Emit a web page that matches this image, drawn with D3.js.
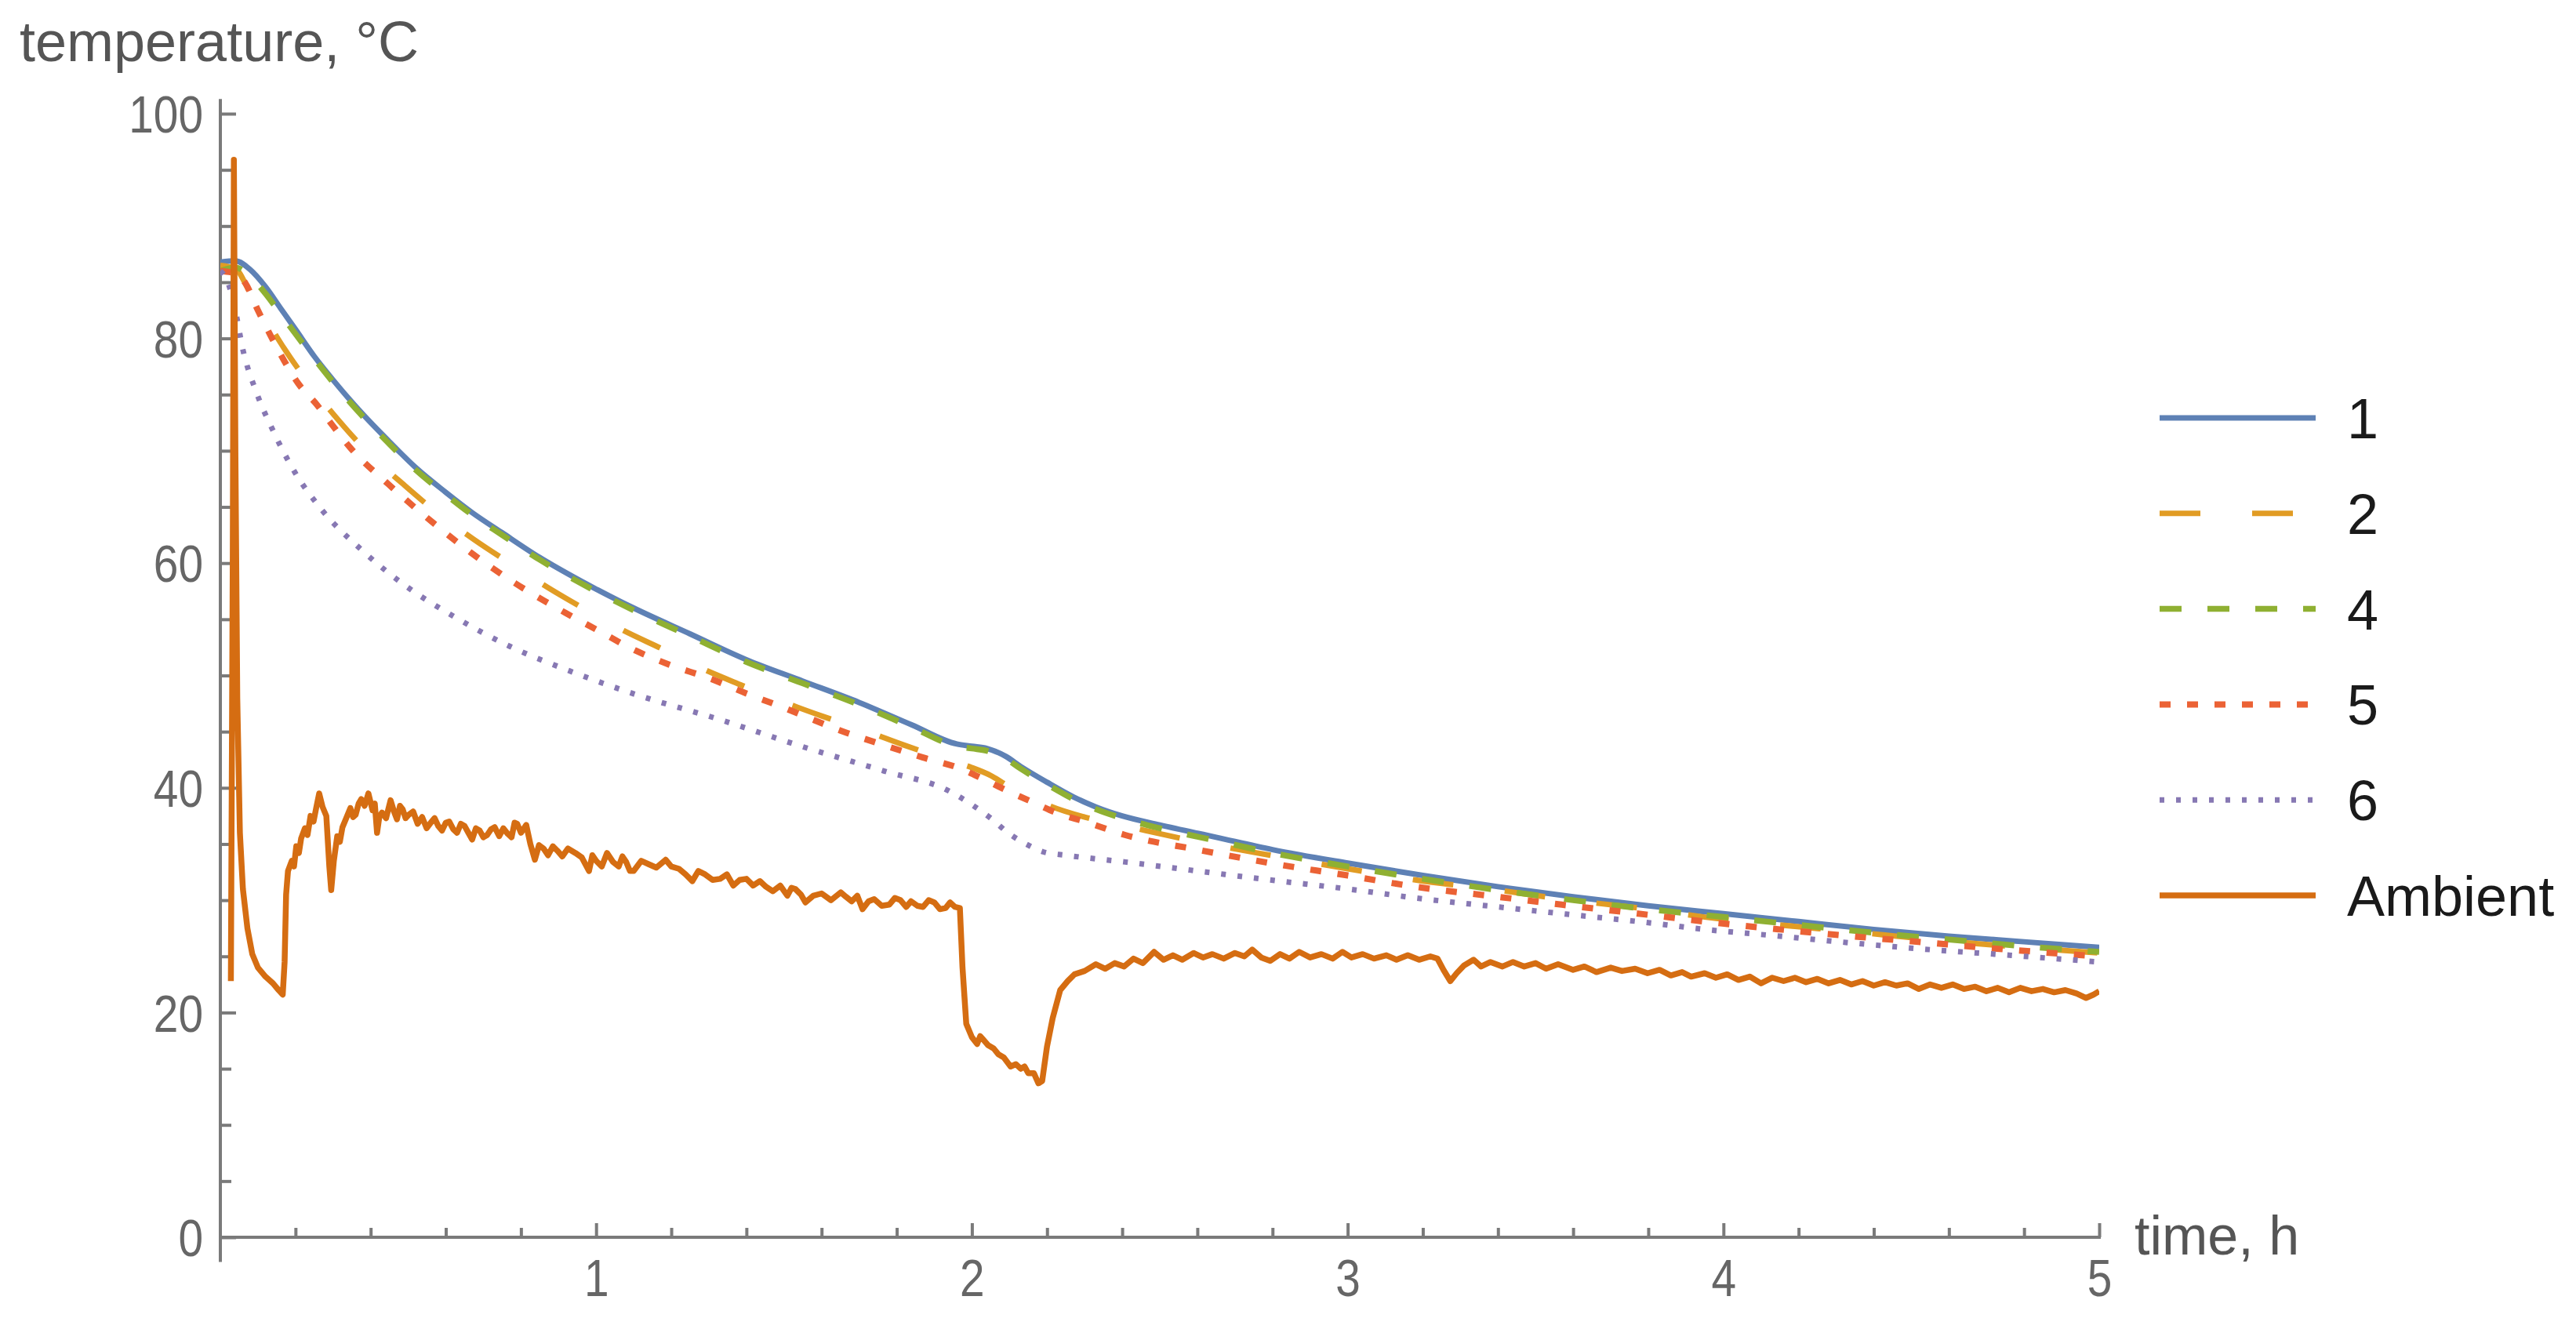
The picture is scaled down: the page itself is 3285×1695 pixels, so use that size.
<!DOCTYPE html>
<html>
<head>
<meta charset="utf-8">
<script src="https://cdn.jsdelivr.net/npm/d3@7"></script>
<style>
  html, body { margin: 0; padding: 0; background: #fff; }
  svg { display: block; }
</style>
</head>
<body>
<svg id="chart" width="3285" height="1695"></svg>
<script>
// ---------------- data ----------------
const seriesNames = ["1", "2", "4", "5", "6", "Ambient"];

const xTicks = [1, 2, 3, 4, 5];
const yTicks = [0, 20, 40, 60, 80, 100];
const xMinorTicks = [0.2,0.4,0.6,0.8,1.2,1.4,1.6,1.8,2.2,2.4,2.6,2.8,3.2,3.4,3.6,3.8,4.2,4.4,4.6,4.8];
const yMinorTicks = [5,10,15,25,30,35,45,50,55,65,70,75,85,90,95];

// series 1 (t [h], T [°C])
const s1 = [[0,86.8],[0.04,86.9],[0.08,86.1],[0.12,84.6],[0.16,82.7],[0.2,80.8],[0.25,78.4],[0.3,76.3],[0.375,73.4],[0.45,70.8],[0.52,68.5],[0.6,66.3],[0.67,64.5],[0.75,62.7],[0.85,60.5],[0.96,58.4],[1.1,56.0],[1.25,53.7],[1.4,51.4],[1.55,49.5],[1.7,47.6],[1.84,45.6],[1.96,43.9],[2.0,43.7],[2.04,43.5],[2.09,42.8],[2.13,41.9],[2.2,40.5],[2.27,39.2],[2.33,38.3],[2.4,37.5],[2.5,36.7],[2.65,35.6],[2.8,34.5],[3.0,33.3],[3.2,32.2],[3.4,31.2],[3.6,30.3],[3.8,29.5],[4.0,28.8],[4.2,28.1],[4.4,27.4],[4.6,26.8],[4.8,26.3],[5.0,25.8]];

// series 2
const s2 = [[0,86.5],[0.04,86.2],[0.08,84.0],[0.12,81.8],[0.17,79.1],[0.24,75.8],[0.315,72.7],[0.4,69.6],[0.484,67.1],[0.58,64.4],[0.675,62.1],[0.77,60.0],[0.873,57.8],[0.97,55.9],[1.073,54.0],[1.18,52.3],[1.283,50.6],[1.39,49.1],[1.494,47.7],[1.6,46.4],[1.714,45.1],[1.82,43.8],[1.934,42.5],[2.0,41.8],[2.05,41.1],[2.1,40.1],[2.146,39.4],[2.2,38.5],[2.3,37.4],[2.408,36.6],[2.6,35.2],[2.794,34.0],[3.0,32.8],[3.18,31.8],[3.4,30.9],[3.57,30.1],[3.8,29.2],[3.95,28.5],[4.15,27.8],[4.34,27.2],[4.55,26.5],[4.72,26.0],[5.0,25.3]];

// series 4
const s4 = [[0,86.0],[0.04,86.3],[0.08,85.5],[0.12,84.0],[0.16,82.2],[0.2,80.4],[0.25,78.2],[0.3,76.1],[0.375,73.2],[0.45,70.6],[0.52,68.3],[0.6,66.1],[0.67,64.3],[0.75,62.5],[0.85,60.3],[0.96,58.2],[1.1,55.8],[1.25,53.5],[1.4,51.2],[1.55,49.3],[1.7,47.4],[1.84,45.4],[1.96,43.7],[2.0,43.5],[2.04,43.3],[2.09,42.6],[2.13,41.7],[2.2,40.3],[2.27,39.0],[2.33,38.1],[2.4,37.3],[2.5,36.4],[2.65,35.3],[2.8,34.2],[3.0,33.0],[3.2,31.9],[3.4,30.9],[3.6,30.0],[3.8,29.2],[4.0,28.5],[4.2,27.8],[4.4,27.1],[4.6,26.5],[4.8,25.9],[5.0,25.4]];

// series 5
const s5 = [[0,86.0],[0.04,85.8],[0.067,84.9],[0.1,82.5],[0.133,80.3],[0.17,78.0],[0.207,76.0],[0.257,74.1],[0.3,72.2],[0.345,70.3],[0.448,67.0],[0.566,63.6],[0.668,60.9],[0.785,58.2],[0.917,55.6],[1.0,54.1],[1.106,52.2],[1.2,50.9],[1.297,49.8],[1.4,48.4],[1.502,47.1],[1.546,46.5],[1.65,45.1],[1.766,43.8],[1.87,42.7],[1.97,41.7],[2.029,40.8],[2.103,39.6],[2.17,38.6],[2.231,37.7],[2.3,37.0],[2.408,35.8],[2.6,34.5],[2.794,33.3],[3.0,32.2],[3.18,31.2],[3.4,30.3],[3.57,29.6],[3.8,28.7],[3.95,28.1],[4.15,27.4],[4.34,26.8],[4.55,26.2],[4.72,25.7],[5.0,25.0]];

// series 6
const s6 = [[0,86.0],[0.02,85.0],[0.038,82.8],[0.06,79.0],[0.096,75.2],[0.14,71.8],[0.198,68.1],[0.271,64.7],[0.375,61.2],[0.492,58.0],[0.624,55.2],[0.77,52.6],[0.93,50.4],[1.106,48.3],[1.327,46.1],[1.546,43.7],[1.766,41.5],[1.94,39.7],[2.0,38.5],[2.05,37.3],[2.1,35.9],[2.15,34.9],[2.19,34.3],[2.25,34.0],[2.408,33.4],[2.6,32.6],[2.794,31.8],[3.0,31.0],[3.18,30.2],[3.4,29.4],[3.57,28.8],[3.8,28.0],[3.95,27.4],[4.15,26.8],[4.34,26.2],[4.55,25.6],[4.72,25.2],[5.0,24.5]];

// ambient
const ambient = [[0.028,22.8],[0.033,60],[0.036,95.9],[0.040,70],[0.045,48],[0.052,36],[0.060,31],[0.072,27.5],[0.085,25.2],[0.100,24.0],[0.120,23.2],[0.140,22.6],[0.155,22.0],[0.166,21.6],[0.171,24.5],[0.175,30.5],[0.180,32.6],[0.190,33.5],[0.196,33.0],[0.202,34.8],[0.209,34.2],[0.215,35.5],[0.225,36.4],[0.232,35.8],[0.240,37.5],[0.248,37.0],[0.255,38.2],[0.263,39.5],[0.272,38.3],[0.282,37.5],[0.290,33.0],[0.295,30.9],[0.302,33.5],[0.311,35.7],[0.318,35.2],[0.325,36.5],[0.335,37.3],[0.346,38.2],[0.353,37.4],[0.360,37.6],[0.368,38.6],[0.375,39.0],[0.384,38.4],[0.394,39.5],[0.405,38.0],[0.411,38.6],[0.417,36.0],[0.423,37.4],[0.430,37.8],[0.441,37.3],[0.453,38.9],[0.462,37.9],[0.470,37.2],[0.478,38.4],[0.485,38.1],[0.493,37.3],[0.501,37.6],[0.513,37.9],[0.525,36.8],[0.537,37.4],[0.549,36.4],[0.560,36.9],[0.570,37.3],[0.580,36.6],[0.590,36.2],[0.600,36.9],[0.609,37.0],[0.620,36.3],[0.630,36.0],[0.640,36.8],[0.650,36.6],[0.660,36.0],[0.670,35.4],[0.680,36.4],[0.690,36.2],[0.700,35.6],[0.710,35.8],[0.720,36.3],[0.730,36.5],[0.742,35.7],[0.753,36.4],[0.765,35.9],[0.775,35.6],[0.783,36.9],[0.790,36.8],[0.800,36.0],[0.814,36.7],[0.825,35.0],[0.837,33.6],[0.848,34.9],[0.860,34.6],[0.872,34.0],[0.885,34.8],[0.897,34.4],[0.910,33.9],[0.925,34.6],[0.945,34.2],[0.962,33.8],[0.981,32.6],[0.990,34.0],[1.000,33.5],[1.015,33.0],[1.029,34.2],[1.045,33.4],[1.060,33.0],[1.070,33.9],[1.080,33.4],[1.090,32.6],[1.100,32.6],[1.120,33.5],[1.140,33.2],[1.160,32.9],[1.185,33.6],[1.200,33.0],[1.220,32.8],[1.238,32.3],[1.256,31.7],[1.272,32.6],[1.290,32.3],[1.310,31.8],[1.330,31.9],[1.348,32.3],[1.365,31.3],[1.382,31.8],[1.400,31.9],[1.418,31.3],[1.436,31.7],[1.452,31.2],[1.470,30.8],[1.490,31.3],[1.509,30.4],[1.520,31.1],[1.530,31.0],[1.545,30.5],[1.557,29.8],[1.578,30.4],[1.600,30.6],[1.625,30.0],[1.651,30.7],[1.665,30.3],[1.680,29.9],[1.695,30.4],[1.709,29.2],[1.725,29.9],[1.740,30.1],[1.760,29.5],[1.780,29.6],[1.795,30.2],[1.810,30.0],[1.825,29.4],[1.838,29.9],[1.855,29.5],[1.870,29.4],[1.885,30.0],[1.900,29.8],[1.915,29.2],[1.930,29.3],[1.942,29.8],[1.955,29.4],[1.968,29.3],[1.975,24.0],[1.985,19.0],[2.000,17.8],[2.014,17.2],[2.022,17.9],[2.030,17.6],[2.043,17.1],[2.058,16.8],[2.070,16.3],[2.085,16.0],[2.103,15.2],[2.117,15.4],[2.130,15.0],[2.140,15.2],[2.150,14.6],[2.165,14.6],[2.177,13.7],[2.187,13.9],[2.200,17.0],[2.215,19.5],[2.235,22.0],[2.255,22.8],[2.273,23.4],[2.300,23.7],[2.330,24.3],[2.355,23.9],[2.380,24.4],[2.405,24.1],[2.430,24.8],[2.455,24.4],[2.485,25.4],[2.510,24.7],[2.535,25.1],[2.560,24.7],[2.590,25.3],[2.615,24.9],[2.640,25.2],[2.670,24.8],[2.700,25.3],[2.725,25.0],[2.746,25.6],[2.770,24.9],[2.794,24.6],[2.820,25.2],[2.845,24.8],[2.871,25.4],[2.900,24.9],[2.930,25.2],[2.960,24.8],[2.986,25.4],[3.010,24.9],[3.040,25.2],[3.070,24.8],[3.103,25.1],[3.130,24.7],[3.160,25.1],[3.190,24.7],[3.220,25.0],[3.239,24.8],[3.255,23.8],[3.273,22.8],[3.290,23.5],[3.310,24.2],[3.335,24.7],[3.355,24.1],[3.380,24.5],[3.412,24.1],[3.440,24.5],[3.470,24.1],[3.500,24.4],[3.528,23.9],[3.560,24.3],[3.600,23.8],[3.630,24.1],[3.662,23.6],[3.700,24.0],[3.730,23.7],[3.765,23.9],[3.798,23.5],[3.830,23.8],[3.860,23.3],[3.890,23.6],[3.914,23.2],[3.950,23.5],[3.980,23.1],[4.010,23.4],[4.040,22.9],[4.070,23.2],[4.100,22.6],[4.130,23.1],[4.160,22.8],[4.190,23.1],[4.220,22.7],[4.250,23.0],[4.280,22.6],[4.310,22.9],[4.340,22.5],[4.370,22.8],[4.400,22.4],[4.430,22.7],[4.460,22.4],[4.490,22.6],[4.520,22.1],[4.550,22.5],[4.580,22.2],[4.610,22.5],[4.640,22.1],[4.670,22.3],[4.700,21.9],[4.730,22.2],[4.760,21.8],[4.790,22.2],[4.820,21.9],[4.850,22.1],[4.880,21.8],[4.910,22.0],[4.940,21.7],[4.965,21.3],[4.985,21.6],[5.000,21.9]];

const seriesData = [s1, s2, s4, s5, s6, ambient];

// ---------------- styling ----------------
const colors = ["#5e81b5", "#e19c24", "#8fb032", "#eb6235", "#8778b3", "#d56d12"];
const dashes = [null, "52,66", "28,33", "14,21", "6,15", null];
const widths = [7, 7, 7.5, 8, 7, 7.5];
const curves = [d3.curveMonotoneX, d3.curveMonotoneX, d3.curveMonotoneX, d3.curveMonotoneX, d3.curveMonotoneX, d3.curveLinear];

const svg = d3.select("#chart");
const x = d3.scaleLinear().domain([0, 5]).range([281, 2677]);
const y = d3.scaleLinear().domain([0, 100]).range([1578, 145]);

const axisColor = "#7a7a7a";
const labelColor = "#666666";
const fontFam = "'Liberation Sans', Arial, sans-serif";

// clip to plot range
svg.append("defs").append("clipPath").attr("id", "clip")
  .append("rect").attr("x", x(0)).attr("y", y(101)).attr("width", x(5) - x(0)).attr("height", y(0) - y(101) + 2);

// axes
const yAxis = d3.axisLeft(y).tickValues(yTicks).tickSize(-20).tickPadding(22).tickFormat(d3.format("d"));
const yAxisMinor = d3.axisLeft(y).tickValues(yMinorTicks).tickSize(-14).tickFormat("");
const xAxis = d3.axisBottom(x).tickValues(xTicks).tickSize(-18).tickPadding(28).tickFormat(d3.format("d"));
const xAxisMinor = d3.axisBottom(x).tickValues(xMinorTicks).tickSize(-12).tickFormat("");

function styleAxis(g) {
  g.select(".domain").remove();
  g.selectAll("line").attr("stroke", axisColor).attr("stroke-width", 4);
  g.selectAll("text").attr("fill", labelColor).style("font-family", fontFam).style("font-size", "66px");
}
// slightly condensed digits, as in the reference
function condense(g) {
  g.selectAll("text").each(function() {
    const w = this.getComputedTextLength();
    d3.select(this).attr("textLength", w * 0.86).attr("lengthAdjust", "spacingAndGlyphs");
  });
}

const gy = svg.append("g").attr("transform", `translate(${x(0)},0)`);
gy.call(yAxis).call(styleAxis);
gy.selectAll("text").attr("dy", "0.36em");
gy.call(condense);
const gym = svg.append("g").attr("transform", `translate(${x(0)},0)`);
gym.call(yAxisMinor).call(styleAxis);

const gx = svg.append("g").attr("transform", `translate(0,${y(0)})`);
gx.call(xAxis).call(styleAxis);
gx.call(condense);
const gxm = svg.append("g").attr("transform", `translate(0,${y(0)})`);
gxm.call(xAxisMinor).call(styleAxis);

// axis lines
svg.append("line").attr("x1", x(0)).attr("x2", x(0)).attr("y1", y(101.3)).attr("y2", y(-2.2))
  .attr("stroke", axisColor).attr("stroke-width", 4);
svg.append("line").attr("x1", x(0) - 2).attr("x2", x(5) + 2).attr("y1", y(0)).attr("y2", y(0))
  .attr("stroke", axisColor).attr("stroke-width", 4);

// axis labels
svg.append("text").attr("x", 25).attr("y", 78).text("temperature, °C")
  .attr("fill", "#555").style("font-family", fontFam).style("font-size", "72px");
svg.append("text").attr("x", x(5) + 45).attr("y", y(0)).attr("dy", "0.32em").text("time, h")
  .attr("fill", "#555").style("font-family", fontFam).style("font-size", "70px");

// series
const plot = svg.append("g").attr("clip-path", "url(#clip)");
seriesData.forEach((data, i) => {
  const line = d3.line().x(d => x(d[0])).y(d => y(d[1])).curve(curves[i]);
  plot.append("path").datum(data).attr("d", line)
    .attr("fill", "none").attr("stroke", colors[i]).attr("stroke-width", widths[i])
    .attr("stroke-dasharray", dashes[i]).attr("stroke-linejoin", "round");
});

// legend
const legend = svg.append("g");
seriesNames.forEach((name, i) => {
  const ly = 533 + i * 121.8;
  legend.append("line").attr("x1", 2754).attr("x2", 2953).attr("y1", ly).attr("y2", ly)
    .attr("stroke", colors[i]).attr("stroke-width", widths[i]).attr("stroke-dasharray", dashes[i]);
  legend.append("text").attr("x", 2993).attr("y", ly).attr("dy", "0.36em").text(name)
    .attr("fill", "#1a1a1a").style("font-family", fontFam).style("font-size", "72px");
});
</script>
</body>
</html>
